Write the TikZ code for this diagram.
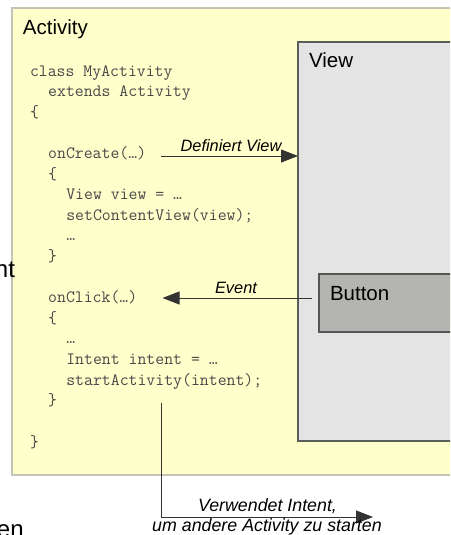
\documentclass[tikz,border=0pt]{standalone}
\usepackage{fontspec}
\setmainfont{Liberation Sans}
\usetikzlibrary{arrows.meta}
\definecolor{actfill}{HTML}{FFFFCC}
\definecolor{actline}{HTML}{C4C4B4}
\definecolor{viewfill}{HTML}{E4E4E4}
\definecolor{viewline}{HTML}{5A5E5A}
\definecolor{btnfill}{HTML}{B4B4B0}
\definecolor{btnline}{HTML}{555555}
\definecolor{codecol}{HTML}{484848}
\definecolor{linecol}{HTML}{333333}
\tikzset{
  txt/.style={anchor=base west, inner sep=0pt, outer sep=0pt},
  title/.style={txt, font=\fontsize{20.5}{24}\selectfont, text=black},
  code/.style={txt, font=\ttfamily\fontsize{17.3}{20.6}\selectfont, text=codecol},
  lbl/.style={inner sep=0pt, outer sep=0pt, anchor=base, font=\itshape\fontsize{16.4}{19}\selectfont, text=black},
  biglbl/.style={inner sep=0pt, outer sep=0pt, anchor=base, font=\itshape\fontsize{17.8}{20}\selectfont, text=black},
  frag/.style={inner sep=0pt, outer sep=0pt, font=\fontsize{24}{28}\selectfont, text=black},
  conn/.style={draw=linecol, line width=0.9pt, -{Triangle[length=17pt,width=13pt]}},
}
\begin{document}
\begin{tikzpicture}[x=1pt,y=-1pt]
\useasboundingbox (0,0) rectangle (450,535);
\clip (0,0) rectangle (450,535);
% boxes
\path[fill=actfill, draw=actline, line width=1.2pt] (12,8) rectangle (470,475);
\node[title] (acttitle) at (23,35) {Activity};
\path[fill=viewfill, draw=viewline, line width=1.2pt] (298,42) rectangle (470,441);
\coordinate (viewW) at (298,156);
\node[title] (viewtitle) at (309,67) {View};
\path[fill=btnfill, draw=btnline, line width=1.1pt] (319,274) rectangle (470,332);
\node[title] (btntitle) at (330,300) {Button};
% code
\node[code] (c0) at (30,76) {class MyActivity};
\node[code] (c1) at (48.2,96.6) {extends Activity};
\node[code] (c2) at (30,117.2) {\{};
\node[code] (c4) at (48.2,158.4) {onCreate(…)};
\node[code] (c5) at (48.2,179) {\{};
\node[code] (c6) at (66.3,199.6) {View view = …};
\node[code] (c7) at (66.3,220.2) {setContentView(view);};
\node[code] (c8) at (66.3,240.8) {…};
\node[code] (c9) at (48.2,261.4) {\}};
\node[code] (c11) at (48.2,302.6) {onClick(…)};
\node[code] (c12) at (48.2,323.2) {\{};
\node[code] (c13) at (66.3,343.8) {…};
\node[code] (c14) at (66.3,364.4) {Intent intent = …};
\node[code] (c15) at (66.3,385) {startActivity(intent);};
\node[code] (c16) at (48.2,405.6) {\}};
\node[code] (c18) at (30,447.8) {\}};
% connectors
\coordinate (dvstart) at (161,156);
\draw[conn] (dvstart) -- (viewW);
\node[lbl] (dvlbl) at (231,151.5) {Definiert View};
\coordinate (evstart) at (311.5,298);
\coordinate (evend) at (162.5,298);
\draw[conn] (evstart) -- (evend);
\node[lbl] (evlbl) at (236,293) {Event};
\coordinate (istart) at (161,403);
\coordinate (iend) at (373,517);
\draw[conn] (istart) |- (iend);
\node[biglbl] (ilbl1) at (267.5,511.5) {Verwendet Intent,};
\node[biglbl] (ilbl2) at (267,531.5) {um andere Activity zu starten};
% cut-off fragments at the left edge
\node[frag, anchor=base east] (fragA) at (15,277) {nt};
\node[frag, anchor=base west] (fragB) at (-3,537.5) {en};
\end{tikzpicture}
\end{document}
